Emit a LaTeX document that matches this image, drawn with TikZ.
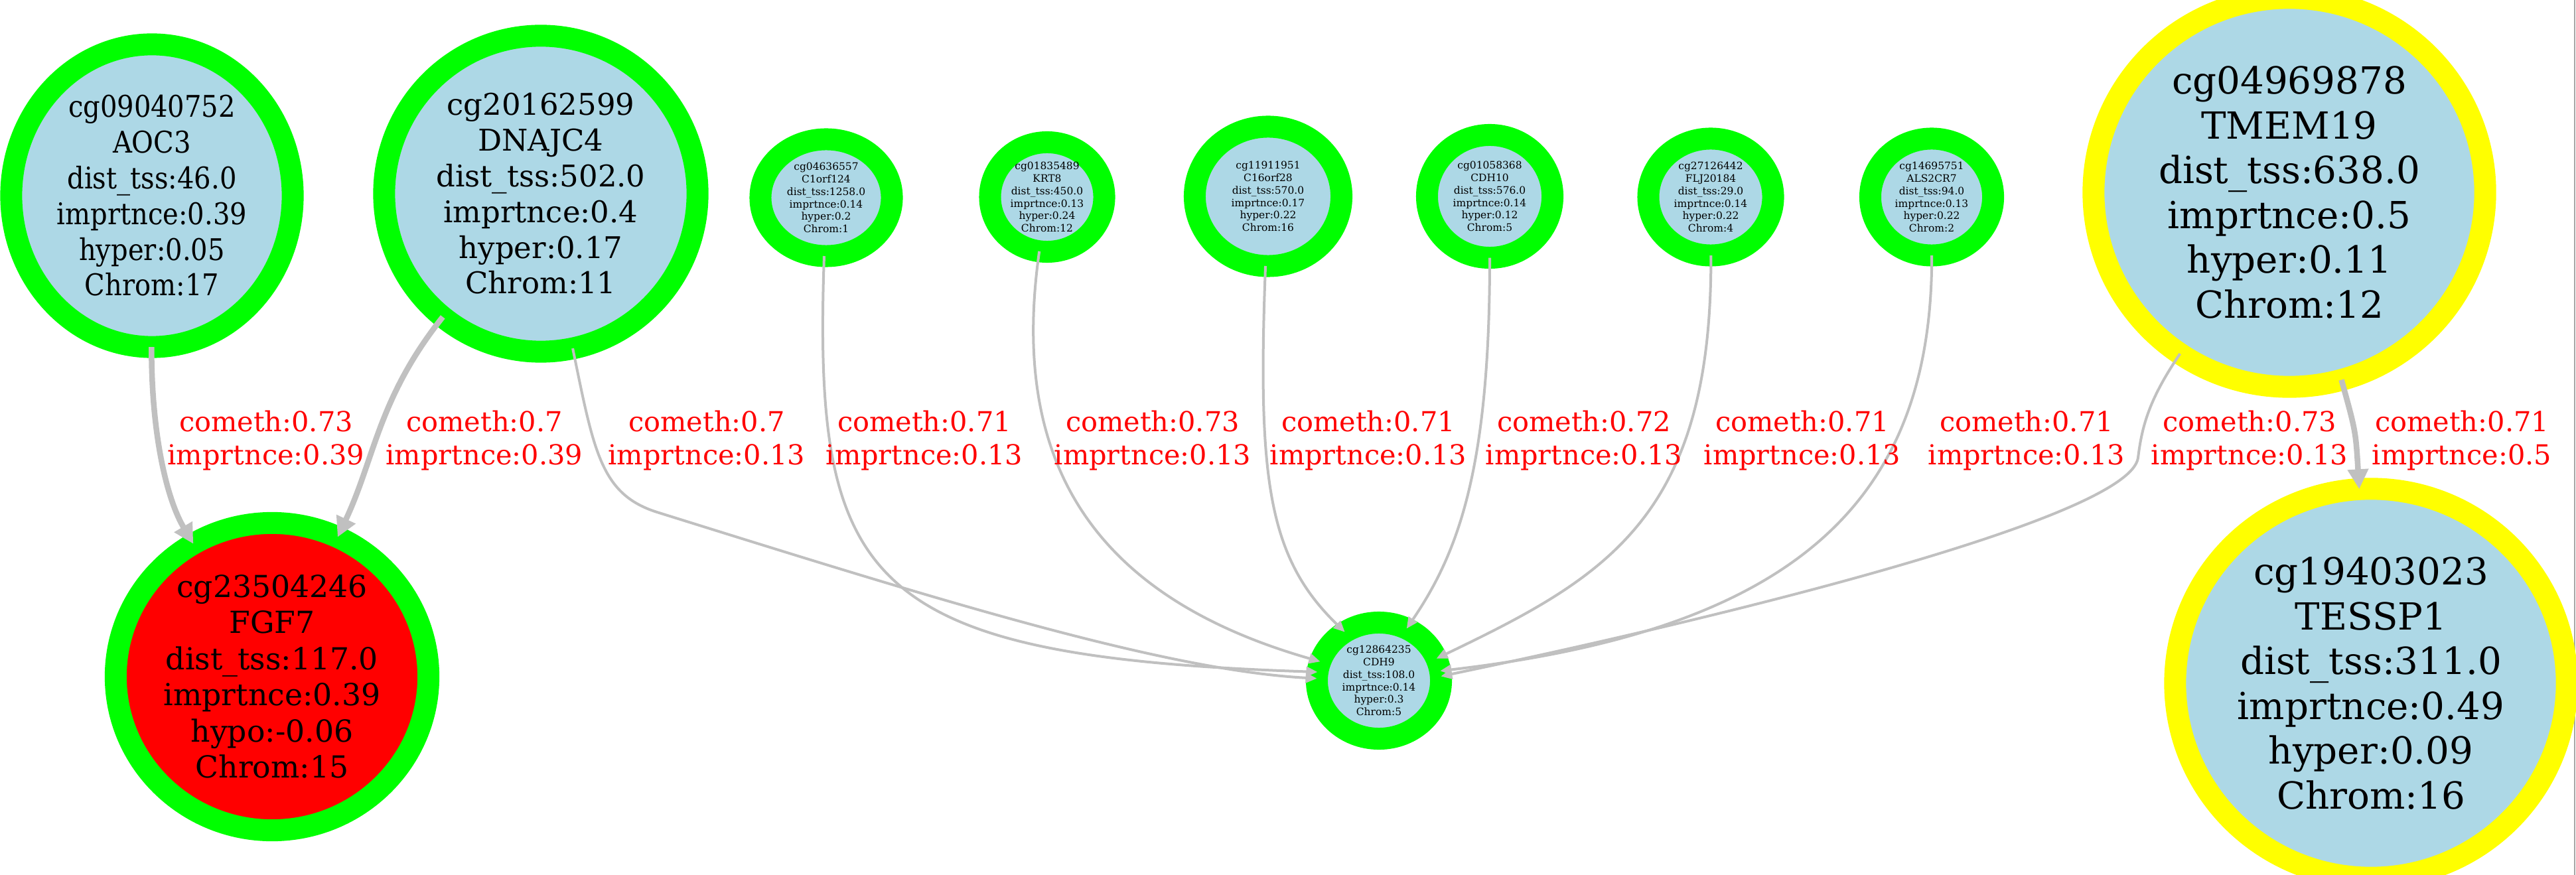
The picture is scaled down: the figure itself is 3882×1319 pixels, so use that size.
\documentclass[tikz,border=0pt]{standalone}
\usepackage{fontspec}
\setmainfont{DejaVu Serif}
\newfontfamily\condserif[FakeStretch=0.89]{DejaVu Serif}
\usetikzlibrary{shapes.geometric,arrows.meta}
\definecolor{lblue}{HTML}{ADD8E6}
\definecolor{grn}{HTML}{00FF00}
\definecolor{ylw}{HTML}{FFFF00}
\definecolor{edgegray}{HTML}{C0C0C0}
\newcommand{\tinytxt}{\fontsize{4.4pt}{5.35pt}\selectfont}
\newcommand{\midtxt}{\fontsize{12.8pt}{15.3pt}\selectfont}
\newcommand{\redtxt}{\fontsize{13pt}{15.5pt}\selectfont}
\newcommand{\bigtxt}{\fontsize{16pt}{19.2pt}\selectfont}
\newcommand{\lbltxt}{\fontsize{11.8pt}{14pt}\selectfont}
\begin{document}
\begin{tikzpicture}[x=0.01cm, y=-0.01cm,
    cpg/.style={ellipse, draw=grn, fill=lblue, line width=0.33cm, inner sep=0pt, outer sep=0pt, align=center},
    thinedge/.style={draw=edgegray, line width=0.04cm, -{Triangle[length=0.17cm,width=0.15cm]}},
    thickedge/.style={draw=edgegray, line width=0.085cm, -{Triangle[length=0.30cm,width=0.30cm]}},
    lbl/.style={text=red, align=center, font=\lbltxt}]
            % pixel grid, origin top left
            \useasboundingbox (0,0) rectangle (3882,1319);
            \clip (0,0) rectangle (3882,1319);
            \draw[draw=gray!70, line width=0.02cm] (3880,0) -- (3880,1319);
            \node[cpg, minimum width=4.24cm, minimum height=4.56cm, font=\condserif\midtxt] (aoc3) at (229,295) {cg09040752\\AOC3\\dist\_tss:46.0\\imprtnce:0.39\\hyper:0.05\\Chrom:17};
            \node[cpg, minimum width=4.72cm, minimum height=4.76cm, font=\midtxt] (dnajc4) at (815,292) {cg20162599\\DNAJC4\\dist\_tss:502.0\\imprtnce:0.4\\hyper:0.17\\Chrom:11};
            \node[cpg, minimum width=1.98cm, minimum height=1.76cm, font=\tinytxt] (c1orf124) at (1245,298) {cg04636557\\C1orf124\\dist\_tss:1258.0\\imprtnce:0.14\\hyper:0.2\\Chrom:1};
            \node[cpg, minimum width=1.72cm, minimum height=1.65cm, font=\tinytxt] (krt8) at (1578,297) {cg01835489\\KRT8\\dist\_tss:450.0\\imprtnce:0.13\\hyper:0.24\\Chrom:12};
            \node[cpg, minimum width=2.21cm, minimum height=2.10cm, font=\tinytxt] (c16orf28) at (1911,296) {cg11911951\\C16orf28\\dist\_tss:570.0\\imprtnce:0.17\\hyper:0.22\\Chrom:16};
            \node[cpg, minimum width=1.89cm, minimum height=1.85cm, font=\tinytxt] (cdh10) at (2245,296) {cg01058368\\CDH10\\dist\_tss:576.0\\imprtnce:0.14\\hyper:0.12\\Chrom:5};
            \node[cpg, minimum width=1.88cm, minimum height=1.76cm, font=\tinytxt] (flj20184) at (2578,297) {cg27126442\\FLJ20184\\dist\_tss:29.0\\imprtnce:0.14\\hyper:0.22\\Chrom:4};
            \node[cpg, minimum width=1.85cm, minimum height=1.76cm, font=\tinytxt] (als2cr7) at (2911,297) {cg14695751\\ALS2CR7\\dist\_tss:94.0\\imprtnce:0.13\\hyper:0.22\\Chrom:2};
            \node[cpg, draw=ylw, minimum width=5.90cm, minimum height=5.86cm, font=\bigtxt] (tmem19) at (3450,290) {cg04969878\\TMEM19\\dist\_tss:638.0\\imprtnce:0.5\\hyper:0.11\\Chrom:12};
            \node[cpg, minimum width=1.87cm, minimum height=1.75cm, font=\tinytxt] (cdh9) at (2078,1026) {cg12864235\\CDH9\\dist\_tss:108.0\\imprtnce:0.14\\hyper:0.3\\Chrom:5};
            \node[cpg, fill=red, minimum width=4.71cm, minimum height=4.63cm, font=\redtxt] (fgf7) at (410,1020) {cg23504246\\FGF7\\dist\_tss:117.0\\imprtnce:0.39\\hypo:-0.06\\Chrom:15};
            \node[cpg, draw=ylw, minimum width=5.90cm, minimum height=5.86cm, font=\bigtxt] (tessp1) at (3573,1030) {cg19403023\\TESSP1\\dist\_tss:311.0\\imprtnce:0.49\\hyper:0.09\\Chrom:16};
            % edges
            \draw[thickedge] (aoc3) .. controls (228,650) and (250,750) .. (fgf7);
            \draw[thickedge] (dnajc4) .. controls (570,600) and (565,690) .. (fgf7);
            \draw[thinedge] (dnajc4) .. controls (895,680) and (905,745) .. (990,772) .. controls (1400,900) and (1750,1010) .. (cdh9.178);
            \draw[thinedge] (c1orf124) .. controls (1225,880) and (1300,990) .. (cdh9.172);
            \draw[thinedge] (krt8) .. controls (1520,700) and (1650,900) .. (cdh9.162);
            \draw[thinedge] (c16orf28) .. controls (1895,720) and (1910,840) .. (cdh9.125);
            \draw[thinedge] (cdh10) .. controls (2245,700) and (2200,830) .. (cdh9.62);
            \draw[thinedge] (flj20184) .. controls (2580,780) and (2420,870) .. (cdh9.21);
            \draw[thinedge] (als2cr7) .. controls (2912,760) and (2700,950) .. (cdh9.9);
            \draw[thinedge] (tmem19) .. controls (3240,600) and (3228,640) .. (3222,690) .. controls (3210,780) and (2600,930) .. (cdh9.4);
            \draw[thickedge] (tmem19) .. controls (3550,650) .. (tessp1);
            % edge labels
            \node[lbl] (lab1) at (401,664) {cometh:0.73\\imprtnce:0.39};
            \node[lbl] (lab2) at (730,664) {cometh:0.7\\imprtnce:0.39};
            \node[lbl] (lab3) at (1065,664) {cometh:0.7\\imprtnce:0.13};
            \node[lbl] (lab4) at (1393,664) {cometh:0.71\\imprtnce:0.13};
            \node[lbl] (lab5) at (1737,664) {cometh:0.73\\imprtnce:0.13};
            \node[lbl] (lab6) at (2062,664) {cometh:0.71\\imprtnce:0.13};
            \node[lbl] (lab7) at (2387,664) {cometh:0.72\\imprtnce:0.13};
            \node[lbl] (lab8) at (2716,664) {cometh:0.71\\imprtnce:0.13};
            \node[lbl] (lab9) at (3054,664) {cometh:0.71\\imprtnce:0.13};
            \node[lbl] (lab10) at (3390,664) {cometh:0.73\\imprtnce:0.13};
            \node[lbl] (lab11) at (3710,664) {cometh:0.71\\imprtnce:0.5};
\end{tikzpicture}
\end{document}
